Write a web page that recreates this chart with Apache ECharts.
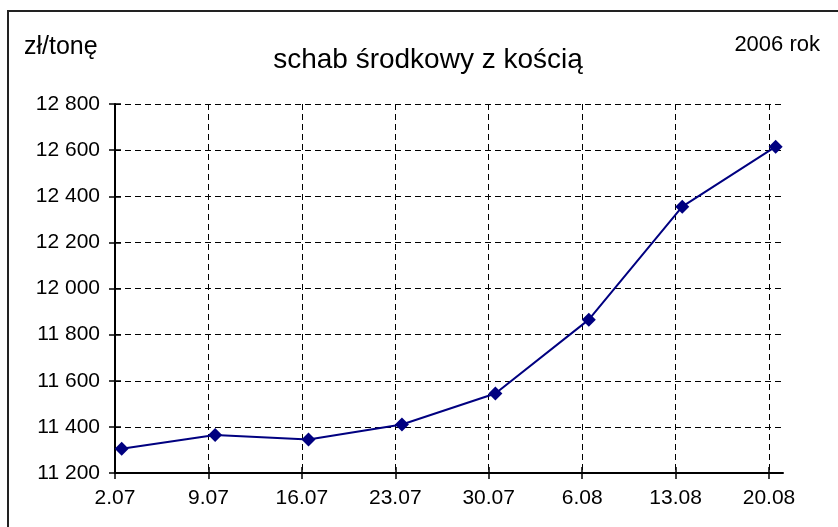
<!DOCTYPE html>
<html>
<head>
<meta charset="utf-8">
<style>
  html, body { margin: 0; padding: 0; background: #fff; }
  #chart { width: 838px; height: 527px; }
</style>
<script src="https://cdn.jsdelivr.net/npm/echarts@6/dist/echarts.min.js"></script>
</head>
<body>
<div id="chart"></div>
<script>
// dni od 2.07.2006 (notowania tygodniowe)
const dayOffsets = [0, 7, 14, 21, 28, 35, 42, 49]
const dateLabels = ['2.07', '9.07', '16.07', '23.07', '30.07', '6.08', '13.08', '20.08']
// cena, zł/tonę
const prices = [11305, 11365, 11345, 11410, 11545, 11865, 12355, 12615]

const FONT = '"Liberation Sans", Arial, sans-serif'

// oś dat jak w Excelu: dzień zajmuje pasek, znacznik na początku dnia
const tickValues = dayOffsets.map(d => d - 0.5)

function fmtThousands(v) {
  return String(v).replace(/\B(?=(\d{3})+(?!\d))/g, ' ')
}

const chart = echarts.init(document.getElementById('chart'))

const gridLine = { show: true, lineStyle: { color: '#000', width: 1, type: [6, 4] } }

chart.setOption({
  animation: false,
  textStyle: { fontFamily: FONT, color: '#000' },
  grid: { left: 115, right: 55, top: 104, bottom: 54 },
  graphic: [
    {
      type: 'rect', silent: true,
      shape: { x: 8, y: 11, width: 900, height: 600 },
      style: { fill: 'none', stroke: '#222', lineWidth: 2 }
    },
    {
      type: 'text', x: 24, y: 47,
      style: { text: 'zł/tonę', font: '25px ' + FONT, fill: '#000', verticalAlign: 'middle' }
    },
    {
      type: 'text', x: 820, y: 45,
      style: { text: '2006 rok', font: '22px ' + FONT, fill: '#000', align: 'right', verticalAlign: 'middle' }
    },
    {
      type: 'text', x: 428, y: 60,
      style: {
        text: 'schab środkowy z kością', font: '28px ' + FONT, fill: '#000',
        align: 'center', verticalAlign: 'middle'
      }
    }
  ],
  xAxis: [
    {
      type: 'value', min: -0.5, max: 49.55,
      axisLine: { show: true, onZero: false, lineStyle: { color: '#000', width: 2 } },
      axisTick: { show: true, length: 6, customValues: tickValues, lineStyle: { color: '#000', width: 1.5 } },
      axisLabel: {
        customValues: tickValues, margin: 15, fontSize: 21, color: '#000', fontFamily: FONT,
        formatter: v => dateLabels[tickValues.indexOf(v)] || ''
      },
      splitLine: gridLine
    },
    {
      type: 'value', min: -0.5, max: 49.55, position: 'bottom',
      axisLine: { show: false, onZero: false },
      axisTick: { show: true, inside: true, length: 6, customValues: tickValues, lineStyle: { color: '#000', width: 1.5 } },
      axisLabel: { show: false },
      splitLine: { show: false }
    }
  ],
  yAxis: [
    {
      type: 'value', min: 11200, max: 12800, interval: 200,
      axisLine: { show: true, onZero: false, lineStyle: { color: '#000', width: 2 } },
      axisTick: { show: true, length: 6, lineStyle: { color: '#000', width: 1.5 } },
      axisLabel: { margin: 15, fontSize: 21, color: '#000', fontFamily: FONT, formatter: fmtThousands },
      splitLine: gridLine
    },
    {
      type: 'value', min: 11200, max: 12800, interval: 200, position: 'left',
      axisLine: { show: false, onZero: false },
      axisTick: { show: true, inside: true, length: 6, lineStyle: { color: '#000', width: 1.5 } },
      axisLabel: { show: false },
      splitLine: { show: false }
    }
  ],
  series: [
    {
      type: 'line',
      data: dayOffsets.map((d, i) => [d, prices[i]]),
      symbol: 'diamond', symbolSize: 14,
      lineStyle: { color: '#000080', width: 2 },
      itemStyle: { color: '#000080' }
    }
  ]
})
</script>
</body>
</html>
